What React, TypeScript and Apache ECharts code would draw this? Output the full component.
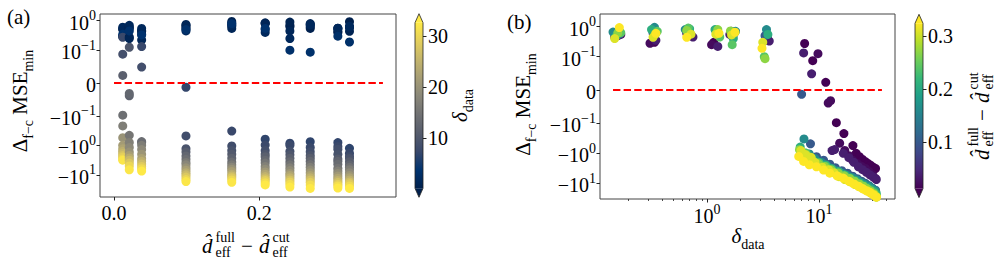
import React, { useEffect, useRef } from "react";
import * as echarts from "echarts";

// ---------------- data ----------------
// one column per model: d_eff^full - d_eff^cut
const dEffDiff = [0.012, 0.021, 0.038, 0.099, 0.162, 0.208, 0.242, 0.27, 0.308, 0.324];

// delta_data values per column
const deltaData: number[][] = [
  [0.16, 0.34, 0.72, 1.15, 1.75, 3.5, 7.45, 8.8, 11.5, 14.3, 16.7, 20.1, 21.5, 23, 24.5, 26, 27.5, 29, 30.5, 32],
  [0.17, 0.31, 0.66, 1.1, 1.65, 3.45, 9.8, 12.1, 12.7, 15.3, 17, 18.5, 20, 22, 24, 26, 28, 30, 32],
  [0.15, 0.35, 0.75, 1.25, 1.6, 3.6, 7.3, 8.6, 13.1, 13.8, 16.5, 18.5, 20.5, 22.5, 24.5, 26.5, 28.5, 30.5, 32.5],
  [0.165, 0.33, 0.7, 1.2, 1.7, 3.3, 7.0, 8.4, 9.5, 11, 12.5, 14, 16, 18, 20, 22, 24, 26, 28, 30, 32],
  [0.145, 0.34, 0.64, 1.22, 1.8, 3.4, 7.35, 8.2, 9.2, 10.5, 12, 14, 16, 18, 20, 22, 24, 26, 28, 30, 32],
  [0.155, 0.32, 0.7, 1.18, 1.72, 3.5, 6.8, 7.6, 8.6, 10, 11.5, 13, 15, 17, 19, 21, 23, 25, 27, 29, 31, 32.5],
  [0.17, 0.36, 0.68, 1.3, 1.68, 3.25, 6.9, 7.7, 8.7, 10, 11.5, 13, 15, 17, 19, 21, 23, 25, 27, 29, 31, 32.5],
  [0.16, 0.345, 0.66, 1.25, 1.62, 3.3, 6.7, 7.5, 8.5, 9.8, 11.2, 12.8, 14.8, 16.8, 18.8, 20.8, 22.8, 24.8, 26.8, 28.8, 30.8, 32.5],
  [0.15, 0.33, 0.72, 1.2, 1.66, 3.15, 6.9, 7.6, 8.5, 9.2, 10.7, 12.2, 13.6, 15.1, 17, 19, 21, 23, 25, 27, 29, 31, 32.5],
  [0.165, 0.35, 0.66, 1.28, 1.78, 3.1, 6.6, 7.3, 8.2, 9.5, 11, 12.5, 14.5, 16.5, 18.5, 20.5, 22.5, 24.5, 26.5, 28.5, 30.5, 32.6],
];

// Delta_{f-c} MSE_min values per column (same order as deltaData)
const mseDiff: number[][] = [
  [0.5, 0.3, 0.53, 0.3, 0.6, 0.35, 0.275, 0.088, 0.023, -0.098, -0.22, -0.55, -1.0, -1.3, -1.6, -1.9, -2.2, -2.5, -2.9, -3.2],
  [0.55, 0.28, 0.6, 0.25, 0.7, 0.45, 0.126, -0.039, -0.032, -0.46, -0.8, -1.2, -1.7, -2.2, -2.7, -3.2, -4.0, -5.0, -6.8],
  [0.45, 0.35, 0.45, 0.22, 0.55, 0.33, 0.133, 0.0485, -0.81, -0.75, -1.0, -1.4, -2.0, -2.8, -3.5, -4.3, -5.2, -6.2, -7.5],
  [0.55, 0.62, 0.7, 0.75, 0.45, 0.5, -0.013, -0.48, -1.3, -1.7, -2.3, -3.0, -3.8, -4.6, -5.8, -7.0, -8.5, -10, -12, -14.5, -17],
  [0.66, 0.95, 0.8, 0.55, 0.7, 0.8, -0.33, -1.05, -1.5, -2.0, -2.75, -3.7, -4.6, -5.5, -6.5, -7.7, -9.5, -11, -12.5, -15, -18],
  [0.5, 0.8, 0.85, 0.8, 0.4, 0.55, -0.62, -0.98, -1.5, -2.0, -2.45, -3.2, -4.0, -5.2, -6.5, -8, -9.5, -11.5, -13.5, -15.5, -18.5, -22],
  [0.63, 0.7, 0.9, 0.45, 0.25, 0.1, -0.85, -1.0, -1.6, -2.1, -2.75, -3.6, -4.6, -5.8, -7.2, -9.0, -10.5, -12.5, -15, -17.5, -21, -26],
  [0.62, 0.55, 0.75, 0.8, 0.72, 0.094, -0.76, -1.2, -1.65, -2.2, -2.75, -3.5, -4.5, -5.6, -6.9, -8.5, -10.5, -12.5, -15, -18, -22, -29],
  [0.4, 0.44, 0.56, 0.56, 0.53, 0.3, -0.81, -1.1, -1.36, -2.0, -2.9, -3.5, -4.4, -6.0, -7.5, -9.0, -11, -13, -15.5, -18, -21, -24, -28],
  [0.93, 0.6, 0.44, 0.6, 0.65, 0.19, -1.27, -1.86, -2.4, -2.8, -3.6, -4.6, -5.6, -6.7, -8.5, -10.5, -12.5, -15, -17.5, -20, -24, -29],
];

// symlog tick values and their labels
const yTickValues = [-10, -1, -0.1, 0, 0.1, 1];
const yTickLabels = ["{b|−10}{s|1}", "{b|−10}{s|0}", "{b|−10}{s|−1}", "{b|0}", "{b|10}{s|−1}", "{b|10}{s|0}"];
const xTickValuesA = [0, 0.2];
const xTickLabelsA = ["0.0", "0.2"];
const xTickDecadesB = [0, 1];
const xTickLabelsB = ["{b|10}{s|0}", "{b|10}{s|1}"];
const cbarTicksA = [10, 20, 30];
const cbarTicksB = [0.1, 0.2, 0.3];
const cbarLabelsB = ["0.1", "0.2", "0.3"];

// reference zero lines
const zeroLineA = [0, 0.37];
const zeroLineB = [0.145, 36.5];

// colormaps
const cividis = ["#00204d", "#00336f", "#39486b", "#575d6d", "#707173", "#8a8779", "#a69d75", "#c4b56c", "#e4cf5b", "#ffea46"];
const viridis = ["#440154", "#482878", "#3e4989", "#31688e", "#26828e", "#1f9e89", "#35b779", "#6ece58", "#b5de2b", "#fde725"];

// ---------------- helpers ----------------
const FONT = "Liberation Serif, DejaVu Serif, serif";
const TFS = 20;
const LINTHRESH = 0.1;
const LINSCALE_ADJ = 1 / (1 - 1 / 10);
function symlog(v: number) {
  const a = Math.abs(v);
  if (a <= LINTHRESH) return (v / LINTHRESH) * LINSCALE_ADJ;
  return Math.sign(v) * (LINSCALE_ADJ + Math.log10(a / LINTHRESH));
}
const yTicksT = yTickValues.map(symlog);

const labelRich = {
  b: { fontSize: TFS, fontFamily: FONT, color: "#000", lineHeight: 24, verticalAlign: "bottom" },
  s: { fontSize: 14, fontFamily: FONT, color: "#000", lineHeight: 14, verticalAlign: "top" },
};

function pick(vals: number[], labels: string[]) {
  return (v: number) => {
    const i = vals.findIndex((t) => Math.abs(t - v) < 1e-6);
    return i >= 0 ? labels[i] : "";
  };
}

const tickLine = { color: "#222", width: 1 };
const noLine = { show: false, onZero: false };

function yAxisSymlog(gridIndex: number, min: number, max: number) {
  return {
    gridIndex, type: "value", min, max, position: "left",
    axisLine: noLine, splitLine: { show: false },
    axisTick: { show: true, length: 3.5, customValues: yTicksT, lineStyle: tickLine },
    axisLabel: { customValues: yTicksT, formatter: pick(yTicksT, yTickLabels), rich: labelRich, margin: 4 },
  };
}

function colorbarSeries(xIdx: number, yIdx: number, vmin: number, vmax: number, colors: string[]) {
  const stops = colors.map((c, i) => ({ offset: i / (colors.length - 1), color: c }));
  return {
    type: "custom", xAxisIndex: xIdx, yAxisIndex: yIdx, silent: true, clip: false,
    data: [[0, vmin]],
    renderItem: (_p: any, api: any) => {
      const tl = api.coord([0, vmax]);
      const br = api.coord([1, vmin]);
      const x0 = tl[0], y0 = tl[1], x1 = br[0], y1 = br[1];
      const xm = (x0 + x1) / 2, tip = 9;
      return {
        type: "group",
        children: [
          { type: "rect", shape: { x: x0, y: y0, width: x1 - x0, height: y1 - y0 }, style: { fill: new echarts.graphic.LinearGradient(0, 1, 0, 0, stops) } },
          { type: "polygon", shape: { points: [[x0, y0], [x1, y0], [xm, y0 - tip]] }, style: { fill: colors[colors.length - 1] } },
          { type: "polygon", shape: { points: [[x0, y1], [x1, y1], [xm, y1 + tip]] }, style: { fill: colors[0] } },
          { type: "polygon", shape: { points: [[x0, y0], [xm, y0 - tip], [x1, y0], [x1, y1], [xm, y1 + tip], [x0, y1]] }, style: { fill: "none", stroke: "#222", lineWidth: 0.8 } },
        ],
      };
    },
  };
}

function txt(x: number, baseline: number, text: string, size: number, italic = false) {
  return {
    type: "text", x, y: baseline - 0.34 * size,
    style: { text, fontSize: size, fontFamily: FONT, fontStyle: italic ? "italic" : "normal", fill: "#000", align: "left", verticalAlign: "middle" },
  };
}

// d̂_eff^full − d̂_eff^cut, laid out around a baseline at local y = 0
function dHatChildren() {
  return [
    txt(0, 0, "d\u0302", 21, true),
    txt(13.5, -11, "full", 14),
    txt(13.5, 4, "eff", 14),
    txt(39, 0, "−", 21),
    txt(57, 0, "d\u0302", 21, true),
    txt(70.5, -11, "cut", 14),
    txt(70.5, 4, "eff", 14),
  ];
}

const subRich = {
  b: { fontSize: 21, fontFamily: FONT, fill: "#000", lineHeight: 26, verticalAlign: "top" },
  i: { fontSize: 21, fontFamily: FONT, fontStyle: "italic", fill: "#000", lineHeight: 26, verticalAlign: "top" },
  s: { fontSize: 14, fontFamily: FONT, fill: "#000", lineHeight: 14, verticalAlign: "bottom" },
};

function richText(x: number, y: number, text: string, rotation = 0) {
  return {
    type: "text", x, y, rotation,
    style: { text, rich: subRich, fontFamily: FONT, fill: "#000", align: "center", verticalAlign: "middle" },
  };
}

function buildOption() {
  const pointsA: number[][] = [];
  const pointsB: number[][] = [];
  dEffDiff.forEach((d, c) => {
    deltaData[c].forEach((dl, k) => {
      const v = mseDiff[c][k];
      pointsA.push([d, symlog(v), dl]);
      pointsB.push([Math.log10(dl), symlog(v), d]);
    });
  });
  const minorB: number[] = [];
  [-1, 0, 1].forEach((e) => {
    for (let m = 2; m <= 9; m++) minorB.push(Math.log10(m * Math.pow(10, e)));
  });
  const allDelta = deltaData.flat();
  const dMin = Math.min(...dEffDiff), dMax = Math.max(...dEffDiff);
  const deltaMin = Math.min(...allDelta), deltaMax = Math.max(...allDelta);

  return {
    animation: false,
    textStyle: { fontFamily: FONT },
    grid: [
      { left: 100, top: 14, width: 296, height: 183, show: true, borderColor: "#444", borderWidth: 1, backgroundColor: "transparent" },
      { left: 600, top: 14, width: 295, height: 185, show: true, borderColor: "#444", borderWidth: 1, backgroundColor: "transparent" },
      { left: 415, top: 22.7, width: 8, height: 165.6 },
      { left: 915, top: 23.3, width: 8, height: 165.3 },
    ],
    xAxis: [
      {
        gridIndex: 0, type: "value", min: -0.0193, max: 0.388, position: "bottom",
        axisLine: noLine, splitLine: { show: false },
        axisTick: { show: true, length: 3.5, customValues: xTickValuesA, lineStyle: tickLine },
        axisLabel: { customValues: xTickValuesA, formatter: pick(xTickValuesA, xTickLabelsA), fontSize: TFS, fontFamily: FONT, color: "#000", margin: 6 },
      },
      {
        gridIndex: 1, type: "value", min: -0.955, max: 1.679, position: "bottom",
        axisLine: noLine, splitLine: { show: false },
        axisTick: { show: true, length: 3.5, customValues: xTickDecadesB, lineStyle: tickLine },
        axisLabel: { customValues: xTickDecadesB, formatter: pick(xTickDecadesB, xTickLabelsB), rich: labelRich, margin: 3 },
      },
      {
        gridIndex: 1, type: "value", min: -0.955, max: 1.679, position: "bottom",
        axisLine: noLine, splitLine: { show: false },
        axisTick: { show: true, length: 2, customValues: minorB, lineStyle: { color: "#222", width: 0.8 } },
        axisLabel: { show: false },
      },
      { gridIndex: 2, type: "value", min: 0, max: 1, show: false, axisLine: noLine },
      { gridIndex: 3, type: "value", min: 0, max: 1, show: false, axisLine: noLine },
    ],
    yAxis: [
      yAxisSymlog(0, -3.864, 2.339),
      yAxisSymlog(1, -3.633, 2.533),
      {
        gridIndex: 2, type: "value", min: deltaMin, max: deltaMax, position: "right",
        axisLine: noLine, splitLine: { show: false },
        axisTick: { show: true, length: 3.5, customValues: cbarTicksA, lineStyle: tickLine },
        axisLabel: { customValues: cbarTicksA, fontSize: TFS, fontFamily: FONT, color: "#000", margin: 5 },
      },
      {
        gridIndex: 3, type: "value", min: dMin, max: dMax, position: "right",
        axisLine: noLine, splitLine: { show: false },
        axisTick: { show: true, length: 3.5, customValues: cbarTicksB, lineStyle: tickLine },
        axisLabel: { customValues: cbarTicksB, formatter: pick(cbarTicksB, cbarLabelsB), fontSize: TFS, fontFamily: FONT, color: "#000", margin: 5 },
      },
    ],
    visualMap: [
      { type: "continuous", show: false, seriesIndex: 0, dimension: 2, min: deltaMin, max: deltaMax, inRange: { color: cividis } },
      { type: "continuous", show: false, seriesIndex: 2, dimension: 2, min: dMin, max: dMax, inRange: { color: viridis } },
    ],
    series: [
      { type: "scatter", xAxisIndex: 0, yAxisIndex: 0, data: pointsA, symbolSize: 9, itemStyle: { opacity: 1 }, z: 2 },
      {
        type: "line", xAxisIndex: 0, yAxisIndex: 0, data: zeroLineA.map((x) => [x, 0]), symbol: "none", z: 3,
        lineStyle: { color: "#ff0000", width: 2, type: [7.4, 3.2] },
      },
      { type: "scatter", xAxisIndex: 1, yAxisIndex: 1, data: pointsB, symbolSize: 9, itemStyle: { opacity: 1 }, z: 2 },
      {
        type: "line", xAxisIndex: 1, yAxisIndex: 1, data: zeroLineB.map((x) => [Math.log10(x), 0]), symbol: "none", z: 3,
        lineStyle: { color: "#ff0000", width: 2, type: [7.4, 3.2] },
      },
      colorbarSeries(3, 2, deltaMin, deltaMax, cividis),
      colorbarSeries(4, 3, dMin, dMax, viridis),
    ],
    graphic: [
      { type: "text", x: 7, y: 16.5, style: { text: "(a)", fontSize: 21, fontFamily: FONT, fill: "#000", align: "left", verticalAlign: "middle" } },
      { type: "text", x: 507, y: 22, style: { text: "(b)", fontSize: 21, fontFamily: FONT, fill: "#000", align: "left", verticalAlign: "middle" } },
      richText(22, 101, "{b|Δ}{s|f−c}{b| MSE}{s|min}", Math.PI / 2),
      richText(525, 104.5, "{b|Δ}{s|f−c}{b| MSE}{s|min}", Math.PI / 2),
      richText(462, 105.5, "{i|δ}{s|data}", Math.PI / 2),
      richText(748, 238, "{i|δ}{s|data}"),
      { type: "group", x: 202, y: 253, children: dHatChildren() },
      { type: "group", x: 989, y: 160, rotation: Math.PI / 2, children: dHatChildren() },
    ],
  };
}

export default function App() {
  const ref = useRef<HTMLDivElement>(null);
  useEffect(() => {
    if (!ref.current) return;
    const chart = echarts.init(ref.current, undefined, { renderer: "svg" });
    chart.setOption(buildOption() as any);
    return () => chart.dispose();
  }, []);
  return <div ref={ref} style={{ position: "absolute", left: 0, top: 0, width: 997, height: 264 }} />;
}
